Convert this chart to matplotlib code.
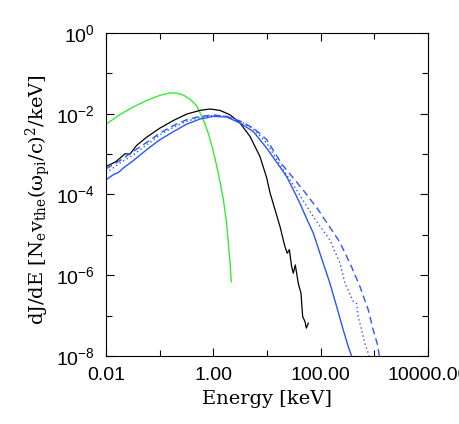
import numpy as np
import matplotlib
matplotlib.use('Agg')

import matplotlib.pyplot as plt
from matplotlib.ticker import FixedLocator, FixedFormatter, LogFormatterSciNotation, NullFormatter

plt.rcParams['mathtext.fontset'] = 'dejavuserif'

# spectra: energy [keV], dJ/dE
green_e = [0.01, 0.0182, 0.0323, 0.0574, 0.101, 0.156, 0.207, 0.276, 0.367,
           0.489, 0.651, 0.807, 1.0, 1.24, 1.54, 1.77, 1.93, 2.05, 2.16]
green_j = [5.5e-3, 9.5e-3, 1.47e-2, 2.14e-2, 2.85e-2, 3.3e-2, 3.25e-2, 2.9e-2, 2.3e-2,
           1.58e-2, 7.1e-3, 3.3e-3, 1.17e-3, 3.4e-4, 7.4e-5, 1.95e-5, 5.1e-6, 2.0e-6, 6.9e-7]

black_e = [0.01, 0.0119, 0.0147, 0.0182, 0.0226, 0.028, 0.0372, 0.0574, 0.101, 0.18,
           0.318, 0.565, 0.867, 1.33, 2.05, 3.14, 4.82, 7.4, 9.86, 11.4, 17.5, 21.6,
           23.9, 26.1, 28.8, 30.9, 33.7, 38.3, 43.0, 46.2, 51.1, 54.1, 58.9]
black_j = [4.9e-4, 5.5e-4, 6.3e-4, 7.9e-4, 1.02e-3, 1.0e-3, 1.64e-3, 2.63e-3, 4.4e-3, 6.8e-3,
           9.8e-3, 1.21e-2, 1.31e-2, 1.21e-2, 9.4e-3, 5.9e-3, 2.75e-3, 8.7e-4, 2.6e-4, 1.1e-4,
           1.6e-5, 5.1e-6, 3.5e-6, 4.3e-6, 1.64e-6, 1.12e-6, 1.8e-6, 6.3e-7, 3.6e-7, 9.5e-8,
           7.1e-8, 4.9e-8, 6.5e-8]

solid_e = [0.01, 0.0137, 0.017, 0.021, 0.0323, 0.0574, 0.101, 0.18, 0.318, 0.565, 1.0,
           1.77, 3.14, 5.6, 9.86, 17.5, 23.3, 31.0, 41.2, 55.0, 73.0, 97.0, 149.0, 199.0,
           264.0, 327.0, 378.0, 400.0]
solid_j = [2.3e-4, 3.1e-4, 3.5e-4, 4.5e-4, 6.9e-4, 1.29e-3, 2.27e-3, 3.6e-3, 5.5e-3, 7.4e-3,
           8.6e-3, 8.3e-3, 5.9e-3, 3.6e-3, 1.4e-3, 4.8e-4, 2.75e-4, 1.3e-4, 6.0e-5, 2.5e-5,
           1.1e-5, 3.5e-6, 6.3e-7, 1.66e-7, 4.4e-8, 1.7e-8, 1.0e-8, 8e-9]

dot_e = [0.01, 0.0182, 0.0323, 0.0574, 0.101, 0.18, 0.318, 0.565, 1.0, 1.77, 3.14, 5.6,
         9.86, 17.5, 35.7, 73.0, 149.0, 229.0, 284.0, 406.0, 468.0, 501.0, 581.0, 670.0,
         771.0, 820.0]
dot_j = [3.4e-4, 6.0e-4, 9.6e-4, 1.7e-3, 3.0e-3, 4.6e-3, 6.5e-3, 8.1e-3, 9.1e-3, 8.6e-3,
         6.5e-3, 4.2e-3, 1.9e-3, 5.4e-4, 1.29e-4, 2.8e-5, 7.4e-6, 2.0e-6, 6.3e-7, 2.24e-7,
         2.0e-7, 9.3e-8, 4.4e-8, 2.0e-8, 1.17e-8, 8e-9]

dash_e = [0.01, 0.0182, 0.0323, 0.0574, 0.101, 0.18, 0.318, 0.565, 1.0, 1.77, 3.14, 5.6,
          9.86, 19.0, 47.0, 90.0, 229.0, 378.0, 541.0, 773.0, 955.0, 1135.0, 1240.0, 1300.0]
dash_j = [4.3e-4, 6.9e-4, 1.17e-3, 1.95e-3, 3.3e-3, 5.1e-3, 7.1e-3, 8.6e-3, 9.3e-3, 8.6e-3,
          6.6e-3, 4.4e-3, 2.3e-3, 5.6e-4, 1.3e-4, 4.2e-5, 6.5e-6, 1.6e-6, 5.2e-7, 1.38e-7,
          4.4e-8, 2.0e-8, 1.0e-8, 7e-9]

xticks = [0.01, 1.0, 100.0, 10000.0]
xtick_labels = ['0.01', '1.00', '100.00', '10000.00']
yticks = [1e-8, 1e-6, 1e-4, 1e-2, 1e0]

blue = '#2a55ff'

fig = plt.figure(figsize=(4.6, 4.24), dpi=100)
ax = fig.add_axes([0.2304, 0.1604, 0.70, 0.7618])

ax.plot(green_e, green_j, color='#33ee33', lw=1.0)
ax.plot(black_e, black_j, color='black', lw=0.9)
ax.plot(solid_e, solid_j, color=blue, lw=1.0)
ax.plot(dot_e, dot_j, color=blue, lw=1.0, linestyle=(0, (1, 2)))
ax.plot(dash_e, dash_j, color=blue, lw=1.0, linestyle=(0, (5, 3)))

ax.set_xscale('log')
ax.set_yscale('log')
ax.set_xlim(0.01, 10000)
ax.set_ylim(1e-8, 1)

ax.xaxis.set_major_locator(FixedLocator(xticks))
ax.xaxis.set_major_formatter(FixedFormatter(xtick_labels))
ax.xaxis.set_minor_locator(FixedLocator([0.1, 10.0, 1000.0]))
ax.xaxis.set_minor_formatter(NullFormatter())
ax.yaxis.set_major_locator(FixedLocator(yticks))
ax.yaxis.set_major_formatter(LogFormatterSciNotation())
ax.yaxis.set_minor_locator(FixedLocator([1e-7, 1e-5, 1e-3, 1e-1]))
ax.yaxis.set_minor_formatter(NullFormatter())

ax.tick_params(which='both', direction='in', top=True, right=True, width=0.8)
ax.tick_params(which='major', length=6, labelsize=14, pad=8)
ax.tick_params(which='minor', length=4)
for lab in ax.get_xticklabels() + ax.get_yticklabels():
    lab.set_family('Liberation Sans')
for s in ax.spines.values():
    s.set_linewidth(0.8)

ax.set_xlabel('Energy [keV]', family='DejaVu Serif', fontsize=14, labelpad=4)
ax.set_ylabel(r'$\mathrm{dJ/dE\ [N_e v_{the} (\omega_{pi}/c)^2/keV]}$', fontsize=14)
ax.yaxis.set_label_coords(-0.165, 0.485)

fig.savefig('out.png', dpi=100)
